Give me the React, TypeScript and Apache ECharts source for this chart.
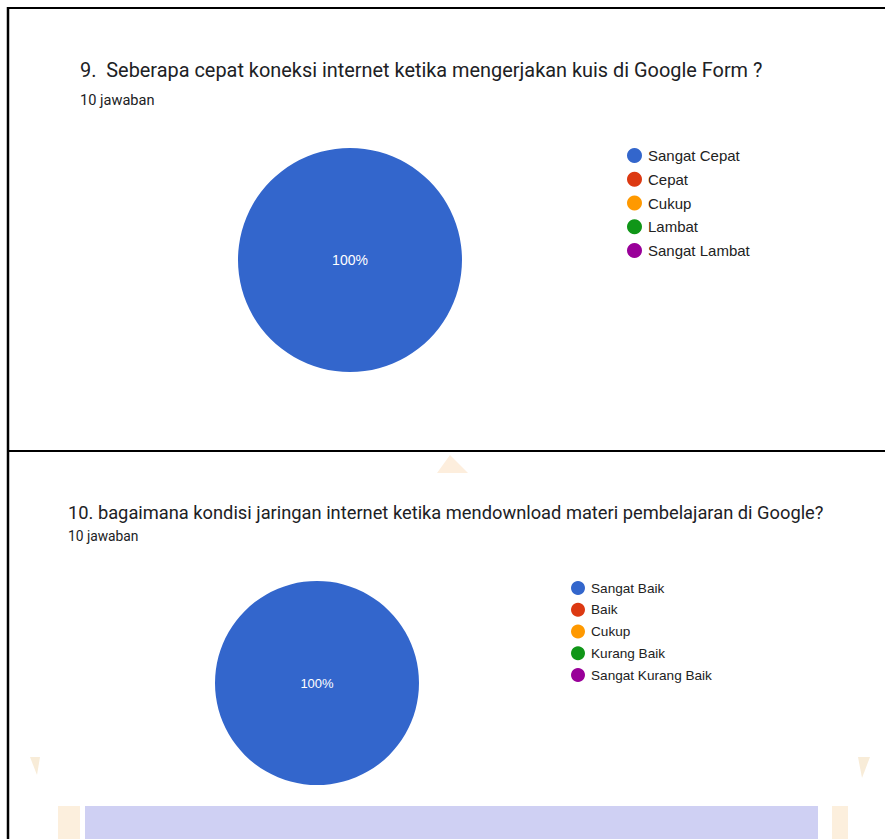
import React, { useEffect, useRef } from "react";
import * as echarts from "echarts";

const titles = [
  "9.  Seberapa cepat koneksi internet ketika mengerjakan kuis di Google Form ?",
  "10. bagaimana kondisi jaringan internet ketika mendownload materi pembelajaran di Google?",
];
const subtitles = ["10 jawaban", "10 jawaban"];
const categories1 = ["Sangat Cepat", "Cepat", "Cukup", "Lambat", "Sangat Lambat"];
const values1 = [10, 0, 0, 0, 0];
const categories2 = ["Sangat Baik", "Baik", "Cukup", "Kurang Baik", "Sangat Kurang Baik"];
const values2 = [10, 0, 0, 0, 0];
const palette = ["#3366cc", "#dc3912", "#ff9900", "#109618", "#990099"];

export default function App() {
  const ref = useRef<HTMLDivElement>(null);
  useEffect(() => {
    if (!ref.current) return;
    const chart = echarts.init(ref.current, null, { renderer: "svg" });
    const font = "Roboto, Arial, sans-serif";
    const arial = "Arial, 'Liberation Sans', sans-serif";
    const mkData = (cats: string[], vals: number[]) =>
      cats.map((c, i) => ({ name: c, value: vals[i], itemStyle: { color: palette[i] } }));
    const mkLabel = (size: number) => ({
      show: true,
      position: "center" as const,
      color: "#ffffff",
      fontSize: size,
      fontFamily: arial,
      formatter: (p: any) => (p.percent > 0 ? `${Math.round(p.percent)}%` : ""),
    });
    chart.setOption({
      animation: false,
      backgroundColor: "#ffffff",
      color: palette,
      legend: [
        {
          orient: "vertical",
          left: 622,
          top: 143,
          icon: "circle",
          itemWidth: 15,
          itemHeight: 15,
          itemGap: 8.75,
          selectedMode: false,
          data: categories1,
          textStyle: { color: "#222222", fontSize: 15, fontFamily: arial, padding: [0, 0, 0, 1] },
        },
        {
          orient: "vertical",
          left: 566,
          top: 576,
          icon: "circle",
          itemWidth: 14,
          itemHeight: 14,
          itemGap: 7.75,
          selectedMode: false,
          data: categories2,
          textStyle: { color: "#222222", fontSize: 13.6, fontFamily: arial, padding: [0, 0, 0, 1] },
        },
      ],
      series: [
        {
          type: "pie",
          center: [350, 260],
          radius: 112,
          startAngle: 90,
          label: mkLabel(14),
          labelLine: { show: false },
          silent: true,
          data: mkData(categories1, values1),
        },
        {
          type: "pie",
          center: [317, 683],
          radius: 102,
          startAngle: 90,
          label: mkLabel(13),
          labelLine: { show: false },
          silent: true,
          data: mkData(categories2, values2),
        },
      ],
      graphic: [
        // watermark pieces
        { type: "rect", z: -10, shape: { x: 85, y: 806, width: 733, height: 40 }, style: { fill: "#cfd0f3" } },
        { type: "rect", z: -10, shape: { x: 58, y: 806, width: 22, height: 40 }, style: { fill: "#fcefdd" } },
        { type: "rect", z: -10, shape: { x: 832, y: 806, width: 16, height: 40 }, style: { fill: "#fcefdd" } },
        { type: "polygon", z: -10, shape: { points: [[437, 473], [450, 455], [468, 473]] }, style: { fill: "#fdeedd" } },
        { type: "polygon", z: -10, shape: { points: [[30, 757], [40, 757], [37, 775]] }, style: { fill: "#f8ecd8" } },
        { type: "polygon", z: -10, shape: { points: [[858, 757], [870, 757], [862, 778]] }, style: { fill: "#f8ecd8" } },
        // borders
        { type: "line", shape: { x1: 8, y1: 8, x2: 885, y2: 8 }, style: { stroke: "#000", lineWidth: 2 } },
        { type: "line", shape: { x1: 8, y1: 7, x2: 8, y2: 839 }, style: { stroke: "#000", lineWidth: 2.5 } },
        { type: "line", shape: { x1: 8, y1: 451, x2: 885, y2: 451 }, style: { stroke: "#000", lineWidth: 2 } },
        // titles
        { type: "text", x: 80, y: 60, style: { text: titles[0], fill: "#202124", font: `19.9px ${font}` } },
        { type: "text", x: 80, y: 92, style: { text: subtitles[0], fill: "#202124", font: `14.6px ${font}` } },
        { type: "text", x: 68, y: 503, style: { text: titles[1], fill: "#202124", font: `18.3px ${font}` } },
        { type: "text", x: 68, y: 529, style: { text: subtitles[1], fill: "#202124", font: `13.8px ${font}` } },
      ],
    });
    return () => chart.dispose();
  }, []);
  return <div ref={ref} style={{ position: "fixed", left: 0, top: 0, width: 885, height: 839 }} />;
}
